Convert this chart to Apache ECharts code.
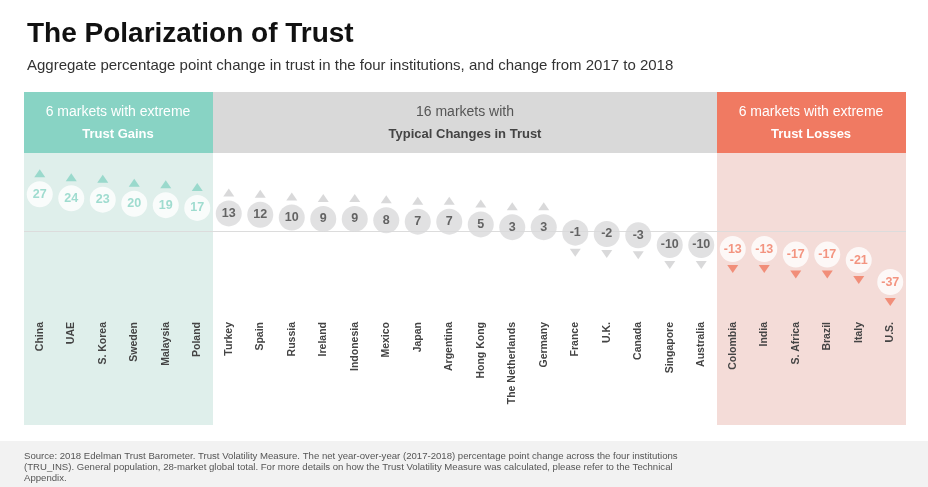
<!DOCTYPE html>
<html><head><meta charset="utf-8">
<script src="https://cdn.jsdelivr.net/npm/echarts@6/dist/echarts.min.js"></script>
<style>body{margin:0}#c{width:928px;height:487px}</style></head>
<body><div id="c"></div>
<script>
const categories = ["China","UAE","S. Korea","Sweden","Malaysia","Poland","Turkey","Spain","Russia","Ireland","Indonesia","Mexico","Japan","Argentina","Hong Kong","The Netherlands","Germany","France","U.K.","Canada","Singapore","Australia","Colombia","India","S. Africa","Brazil","Italy","U.S."];
const values = [27,24,23,20,19,17,13,12,10,9,9,8,7,7,5,3,3,-1,-2,-3,-10,-10,-13,-13,-17,-17,-21,-37];
const TEAL="#88d3c4", RED="#f07a62", GREY="#d9dadb";
function grp(i){return i<6?0:(i<22?1:2);}
const circ = values.map((v,i)=>{const g=grp(i);return {value:[i,v],
  itemStyle:{color:g==1?GREY:'#fff'},
  label:{color:g==0?TEAL:(g==2?RED:'#444')}};});
const tri = values.map((v,i)=>{const g=grp(i);return {value:[i,v],
  symbolRotate:v>=0?0:180, symbolOffset:[0,v>=0?-21:20],
  itemStyle:{color:g==0?TEAL:(g==2?RED:'#cfd0d1')}};});
const ch = echarts.init(document.getElementById('c'));
ch.setOption({
  animation:false,
  title:[{text:'The Polarization of Trust',left:22,top:15,textStyle:{fontSize:28,fontWeight:'bold',color:'#111',fontFamily:'Liberation Sans'}},
    {text:'Aggregate percentage point change in trust in the four institutions, and change from 2017 to 2018',left:22,top:53,textStyle:{fontSize:15,fontWeight:'normal',color:'#333',fontFamily:'Liberation Sans'}}],
  graphic:[
    {type:'rect',shape:{x:24,y:92,width:189,height:61},style:{fill:TEAL},z:-10},
    {type:'rect',shape:{x:213,y:92,width:504,height:61},style:{fill:'#d9d9d9'},z:-10},
    {type:'rect',shape:{x:717,y:92,width:189,height:61},style:{fill:RED},z:-10},
    {type:'rect',shape:{x:24,y:153,width:189,height:272},style:{fill:'#dfefeb'},z:-10},
    {type:'rect',shape:{x:717,y:153,width:189,height:272},style:{fill:'#f4dcd8'},z:-10},
    {type:'rect',shape:{x:0,y:441,width:928,height:46},style:{fill:'#f2f2f2'},z:-10},
    {type:'text',x:118,y:123,style:{text:'6 markets with extreme\n{b|Trust Gains}',rich:{b:{fontWeight:'bold',fontSize:13,fill:'#fff',lineHeight:22}},fill:'#fff',fontSize:14,lineHeight:22,align:'center',verticalAlign:'middle',fontFamily:'Liberation Sans'}},
    {type:'text',x:465,y:123,style:{text:'16 markets with\n{b|Typical Changes in Trust}',rich:{b:{fontWeight:'bold',fontSize:13,fill:'#444',lineHeight:22}},fill:'#555',fontSize:14,lineHeight:22,align:'center',verticalAlign:'middle',fontFamily:'Liberation Sans'}},
    {type:'text',x:811,y:123,style:{text:'6 markets with extreme\n{b|Trust Losses}',rich:{b:{fontWeight:'bold',fontSize:13,fill:'#fff',lineHeight:22}},fill:'#fff',fontSize:14,lineHeight:22,align:'center',verticalAlign:'middle',fontFamily:'Liberation Sans'}},
    {type:'text',x:24,y:451,style:{text:'Source: 2018 Edelman Trust Barometer. Trust Volatility Measure. The net year-over-year (2017-2018) percentage point change across the four institutions\n(TRU_INS). General population, 28-market global total. For more details on how the Trust Volatility Measure was calculated, please refer to the Technical\nAppendix.',fill:'#555',fontSize:9.6,lineHeight:11,fontFamily:'Liberation Sans'}}
  ],
  grid:{left:24,width:882,top:153,height:162},
  xAxis:{type:'category',data:categories,axisLine:{show:false},axisTick:{show:false},
    axisLabel:{rotate:90,margin:7,fontSize:10.5,fontWeight:'bold',color:'#444',interval:0,fontFamily:'Liberation Sans'}},
  yAxis:{type:'value',min:-61,max:57,show:false,splitLine:{show:false}},
  series:[
    {type:'line',data:[],markLine:{silent:true,symbol:'none',label:{show:false},lineStyle:{color:'#dcdcdc',type:'solid',width:1},data:[{yAxis:0}]}},
    {type:'scatter',data:tri,symbol:'triangle',symbolSize:[11,8]},
    {type:'scatter',data:circ,symbolSize:26,z:5,
     label:{show:true,position:'inside',formatter:p=>p.value[1],fontSize:12.5,fontWeight:'bold',fontFamily:'Liberation Sans'}}
  ]
});
</script></body></html>
